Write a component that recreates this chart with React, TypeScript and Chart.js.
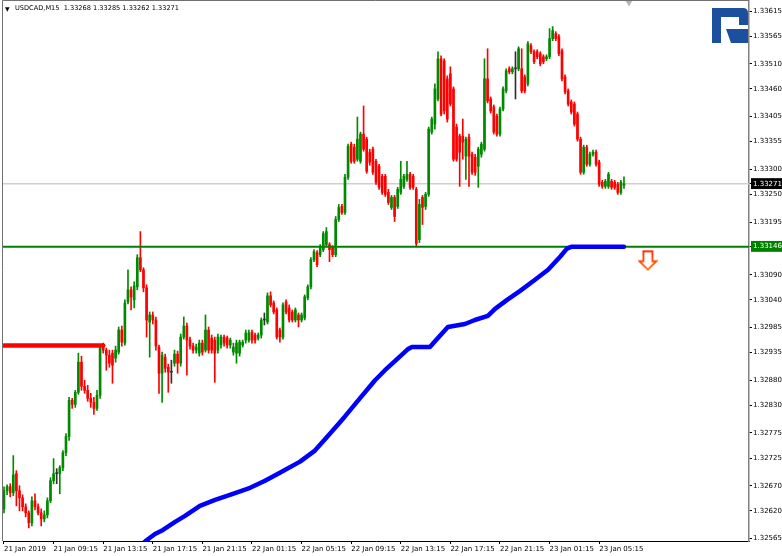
import React, { useEffect, useRef } from "react";
import { Chart, registerables } from "chart.js";

Chart.register(...registerables);

const symbolName = "USDCAD,M15";
const lastOHLC = ["1.33268", "1.33285", "1.33262", "1.33271"];

const opens = [
  1.32624,1.32660,1.32668,1.32656,1.32694,1.32660,1.32646,1.32628,1.32616,1.32596,
  1.32640,1.32628,1.32616,1.32604,1.32612,1.32640,1.32680,1.32694,1.32694,1.32706,
  1.32736,1.32768,1.32840,1.32832,1.32856,1.32916,1.32868,1.32860,1.32844,1.32836,
  1.32824,1.32850,1.32948,1.32940,1.32930,1.32934,1.32924,1.32936,1.32980,1.32954,
  1.33036,1.33060,1.33040,1.33066,1.33124,1.33100,1.33064,1.32996,1.33010,1.33000,
  1.32946,1.32894,1.32926,1.32906,1.32896,1.32914,1.32932,1.32914,1.32966,1.32988,
  1.32960,1.32948,1.32940,1.32934,1.32954,1.32940,1.32980,1.32964,1.32960,1.32940,
  1.32950,1.32966,1.32964,1.32950,1.32936,1.32934,1.32934,1.32950,1.32960,1.32960,
  1.32976,1.32970,1.32964,1.32970,1.33000,1.32996,1.33048,1.33034,1.33020,1.32980,
  1.32966,1.33036,1.33024,1.33016,1.33000,1.33010,1.33000,1.33004,1.33044,1.33066,
  1.33120,1.33134,1.33130,1.33140,1.33150,1.33150,1.33144,1.33130,1.33200,1.33226,
  1.33214,1.33284,1.33350,1.33344,1.33320,1.33316,1.33370,1.33360,1.33334,1.33340,
  1.33316,1.33306,1.33286,1.33286,1.33254,1.33224,1.33244,1.33226,1.33254,1.33266,
  1.33280,1.33290,1.33286,1.33260,1.33160,1.33244,1.33226,1.33250,1.33374,1.33390,
  1.33440,1.33520,1.33516,1.33480,1.33490,1.33460,1.33384,1.33366,1.33366,1.33326,
  1.33364,1.33330,1.33324,1.33306,1.33330,1.33340,1.33480,1.33440,1.33424,1.33406,
  1.33370,1.33420,1.33456,1.33500,1.33494,1.33500,1.33500,1.33500,1.33484,1.33470,
  1.33546,1.33534,1.33534,1.33530,1.33524,1.33520,1.33524,1.33560,1.33570,1.33564,
  1.33536,1.33484,1.33456,1.33434,1.33430,1.33410,1.33360,1.33294,1.33344,1.33310,
  1.33330,1.33334,1.33314,1.33274,1.33266,1.33266,1.33276,1.33274,1.33270,1.33254,
  1.33268,
];

const closes = [
  1.32660,1.32668,1.32656,1.32692,1.32660,1.32646,1.32628,1.32616,1.32596,1.32640,
  1.32628,1.32616,1.32604,1.32612,1.32640,1.32680,1.32694,1.32694,1.32706,1.32736,
  1.32768,1.32840,1.32832,1.32856,1.32916,1.32868,1.32860,1.32844,1.32836,1.32824,
  1.32850,1.32944,1.32940,1.32930,1.32914,1.32910,1.32940,1.32980,1.32956,1.33034,
  1.33060,1.33046,1.33068,1.33124,1.33100,1.33064,1.33000,1.33010,1.33000,1.32948,
  1.32894,1.32930,1.32904,1.32896,1.32896,1.32932,1.32914,1.32966,1.32988,1.32960,
  1.32948,1.32940,1.32946,1.32954,1.32936,1.32980,1.32940,1.32940,1.32934,1.32966,
  1.32966,1.32954,1.32950,1.32960,1.32946,1.32954,1.32956,1.32956,1.32974,1.32974,
  1.32960,1.32960,1.32970,1.33000,1.33000,1.33048,1.33030,1.33016,1.32966,1.32966,
  1.33030,1.33016,1.33000,1.33000,1.33020,1.33000,1.33010,1.33046,1.33066,1.33120,
  1.33136,1.33110,1.33146,1.33172,1.33176,1.33140,1.33130,1.33200,1.33224,1.33214,
  1.33284,1.33346,1.33316,1.33316,1.33360,1.33370,1.33340,1.33296,1.33314,1.33294,
  1.33274,1.33264,1.33254,1.33250,1.33234,1.33244,1.33206,1.33260,1.33280,1.33286,
  1.33290,1.33264,1.33264,1.33152,1.33230,1.33224,1.33250,1.33380,1.33400,1.33460,
  1.33520,1.33410,1.33416,1.33400,1.33430,1.33320,1.33320,1.33334,1.33354,1.33360,
  1.33326,1.33294,1.33294,1.33340,1.33350,1.33480,1.33436,1.33416,1.33374,1.33370,
  1.33420,1.33460,1.33496,1.33494,1.33500,1.33500,1.33540,1.33456,1.33456,1.33550,
  1.33534,1.33514,1.33524,1.33510,1.33514,1.33524,1.33560,1.33576,1.33560,1.33530,
  1.33480,1.33454,1.33430,1.33414,1.33390,1.33360,1.33294,1.33344,1.33310,1.33330,
  1.33334,1.33310,1.33270,1.33266,1.33276,1.33290,1.33264,1.33264,1.33254,1.33274,
  1.33271,
];

const highs = [
  1.32668,1.32672,1.32674,1.32730,1.32700,1.32670,1.32652,1.32634,1.32620,1.32648,
  1.32654,1.32634,1.32624,1.32620,1.32646,1.32686,1.32724,1.32704,1.32710,1.32740,
  1.32774,1.32846,1.32844,1.32860,1.32934,1.32928,1.32880,1.32870,1.32854,1.32846,
  1.32860,1.32950,1.32954,1.32944,1.32940,1.32940,1.32948,1.32986,1.32988,1.33040,
  1.33100,1.33066,1.33076,1.33130,1.33176,1.33104,1.33070,1.33016,1.33016,1.33006,
  1.32950,1.32936,1.32932,1.32912,1.32920,1.32940,1.32938,1.32972,1.33006,1.32994,
  1.32966,1.32954,1.32952,1.32960,1.32960,1.33010,1.32986,1.32970,1.32966,1.32972,
  1.32970,1.32970,1.32968,1.32964,1.32954,1.32960,1.32960,1.32960,1.32980,1.32980,
  1.32980,1.32974,1.32974,1.33004,1.33014,1.33054,1.33056,1.33038,1.33024,1.32984,
  1.33034,1.33040,1.33030,1.33020,1.33024,1.33014,1.33014,1.33050,1.33070,1.33124,
  1.33140,1.33138,1.33150,1.33176,1.33184,1.33154,1.33148,1.33206,1.33230,1.33230,
  1.33290,1.33350,1.33354,1.33350,1.33404,1.33374,1.33426,1.33364,1.33340,1.33344,
  1.33320,1.33310,1.33290,1.33290,1.33260,1.33248,1.33248,1.33264,1.33316,1.33290,
  1.33316,1.33294,1.33290,1.33264,1.33240,1.33248,1.33254,1.33384,1.33404,1.33470,
  1.33534,1.33526,1.33520,1.33486,1.33504,1.33464,1.33390,1.33370,1.33400,1.33364,
  1.33370,1.33334,1.33330,1.33344,1.33354,1.33520,1.33540,1.33444,1.33428,1.33410,
  1.33424,1.33464,1.33500,1.33504,1.33504,1.33534,1.33544,1.33540,1.33488,1.33554,
  1.33550,1.33538,1.33538,1.33534,1.33528,1.33528,1.33580,1.33584,1.33574,1.33568,
  1.33540,1.33488,1.33460,1.33438,1.33434,1.33414,1.33364,1.33348,1.33348,1.33334,
  1.33338,1.33338,1.33318,1.33278,1.33280,1.33294,1.33280,1.33278,1.33274,1.33278,
  1.33285,
];

const lows = [
  1.32616,1.32652,1.32648,1.32650,1.32630,1.32620,1.32620,1.32608,1.32586,1.32590,
  1.32622,1.32612,1.32590,1.32598,1.32606,1.32636,1.32674,1.32674,1.32654,1.32700,
  1.32730,1.32760,1.32824,1.32826,1.32852,1.32860,1.32854,1.32838,1.32826,1.32812,
  1.32820,1.32844,1.32934,1.32900,1.32906,1.32874,1.32916,1.32932,1.32948,1.32950,
  1.33032,1.33020,1.33024,1.33060,1.33096,1.33056,1.32966,1.32926,1.32992,1.32940,
  1.32854,1.32836,1.32896,1.32856,1.32874,1.32908,1.32894,1.32908,1.32962,1.32890,
  1.32942,1.32934,1.32934,1.32928,1.32930,1.32936,1.32934,1.32934,1.32876,1.32934,
  1.32944,1.32948,1.32944,1.32944,1.32930,1.32914,1.32928,1.32946,1.32954,1.32956,
  1.32954,1.32954,1.32960,1.32964,1.32990,1.32992,1.33026,1.33012,1.32962,1.32956,
  1.32962,1.33012,1.32996,1.32996,1.32996,1.32986,1.32996,1.33000,1.33040,1.33062,
  1.33116,1.33106,1.33126,1.33136,1.33146,1.33116,1.33126,1.33126,1.33196,1.33210,
  1.33210,1.33280,1.33312,1.33312,1.33316,1.33312,1.33336,1.33292,1.33308,1.33290,
  1.33270,1.33260,1.33250,1.33246,1.33230,1.33220,1.33196,1.33222,1.33250,1.33262,
  1.33276,1.33260,1.33260,1.33148,1.33154,1.33190,1.33220,1.33246,1.33370,1.33380,
  1.33436,1.33406,1.33410,1.33394,1.33426,1.33316,1.33316,1.33266,1.33320,1.33280,
  1.33266,1.33290,1.33288,1.33264,1.33324,1.33336,1.33432,1.33412,1.33370,1.33366,
  1.33366,1.33416,1.33452,1.33490,1.33490,1.33440,1.33496,1.33452,1.33452,1.33466,
  1.33530,1.33510,1.33520,1.33506,1.33510,1.33516,1.33520,1.33556,1.33556,1.33526,
  1.33476,1.33450,1.33426,1.33410,1.33386,1.33356,1.33290,1.33290,1.33306,1.33306,
  1.33326,1.33306,1.33266,1.33262,1.33262,1.33262,1.33260,1.33260,1.33250,1.33250,
  1.33262,
];

// indicator line (bar index, price)
const blueIdx = [43.9, 46.1, 48.7, 51.3, 55.2, 58.4, 63.2, 68.1, 72.9, 79.4, 84.2, 89.0, 95.5, 100.3, 105.2, 110.0, 114.8, 119.7, 122.9, 126.1, 130.3, 131.6, 137.4, 139.4, 143.2, 148.7, 151.9, 156.1, 158.4, 162.3, 166.5, 171.3, 175.5, 179.4, 181.6, 183.2, 200.0];
const blueVal = [1.32550, 1.32562, 1.32574, 1.32582, 1.32598, 1.32610, 1.32630, 1.32642, 1.32652, 1.32666, 1.32680, 1.32696, 1.32718, 1.32740, 1.32774, 1.32808, 1.32844, 1.32880, 1.32900, 1.32918, 1.32942, 1.32946, 1.32946, 1.32960, 1.32986, 1.32992, 1.33000, 1.33008, 1.33022, 1.33040, 1.33058, 1.33080, 1.33100, 1.33126, 1.33142, 1.33146, 1.33146];

const redLevel = 1.32949;
const redFromIdx = 0;
const redToIdx = 32;

const bidPrice = 1.33271;
const levelPrice = 1.33146;

const arrowIdx = 207.7;
const arrowPrice = 1.33119;
const shiftIdx = 201.6;
const shiftPrice = 1.33632;

const xTickIndex = [0, 16, 32, 48, 64, 80, 96, 112, 128, 144, 160, 176, 192];
const xTickLabels = [
  "21 Jan 2019", "21 Jan 09:15", "21 Jan 13:15", "21 Jan 17:15", "21 Jan 21:15",
  "22 Jan 01:15", "22 Jan 05:15", "22 Jan 09:15", "22 Jan 13:15", "22 Jan 17:15",
  "22 Jan 21:15", "23 Jan 01:15", "23 Jan 05:15",
];

const yTickValues = [
  1.33615, 1.33565, 1.3351, 1.3346, 1.33405, 1.33355, 1.333, 1.33271, 1.3325, 1.33195,
  1.33146, 1.3309, 1.3304, 1.32985, 1.32935, 1.3288, 1.3283, 1.32775, 1.32725, 1.3267,
  1.3262, 1.32565,
];

const X_MIN = -0.32;
const X_MAX = 240.33;
const Y_MIN = 1.3256;
const Y_MAX = 1.33635;

const UP = "#008a00";
const DOWN = "#ff0000";
const DOJI = "#303030";
const FONT = { family: "'DejaVu Sans', sans-serif", size: 7 };

function makeArrow(): HTMLCanvasElement {
  const c = document.createElement("canvas");
  c.width = 20;
  c.height = 21;
  const g = c.getContext("2d")!;
  const grad = g.createLinearGradient(0, 0, 0, 21);
  grad.addColorStop(0, "#ff1a00");
  grad.addColorStop(1, "#ff7000");
  g.beginPath();
  g.moveTo(5.5, 1.5);
  g.lineTo(14.5, 1.5);
  g.lineTo(14.5, 11.5);
  g.lineTo(18.5, 11.5);
  g.lineTo(10, 19.8);
  g.lineTo(1.5, 11.5);
  g.lineTo(5.5, 11.5);
  g.closePath();
  g.fillStyle = "#ffffff";
  g.fill();
  g.lineJoin = "miter";
  g.strokeStyle = grad;
  g.lineWidth = 1.8;
  g.stroke();
  return c;
}

const framePlugin = {
  id: "mtFrame",
  afterDraw(chart: any) {
    const { ctx, chartArea } = chart;
    ctx.save();
    ctx.strokeStyle = "#707070";
    ctx.lineWidth = 1;
    ctx.beginPath();
    ctx.moveTo(chartArea.left - 0.5, chartArea.bottom);
    ctx.lineTo(chartArea.left - 0.5, chartArea.top - 0.5);
    ctx.lineTo(chartArea.right, chartArea.top - 0.5);
    ctx.stroke();
    ctx.restore();
  },
};

const isSame = (a: number, b: number) => Math.abs(a - b) < 1e-7;

const noPad = (s: any) => {
  s.paddingLeft = 0;
  s.paddingRight = 0;
  s.paddingTop = 0;
  s.paddingBottom = 0;
};

export default function App() {
  const ref = useRef<HTMLCanvasElement>(null);

  useEffect(() => {
    const canvas = ref.current!;
    const idx = closes.map((_, i) => i);
    const colors = idx.map((i) =>
      closes[i] > opens[i] ? UP : closes[i] < opens[i] ? DOWN : DOJI
    );

    const chart = new Chart(canvas, {
      type: "bar",
      data: {
        datasets: [
          {
            type: "line",
            label: "bid",
            data: [{ x: X_MIN, y: bidPrice }, { x: X_MAX, y: bidPrice }],
            borderColor: "#cfcfcf",
            borderWidth: 1.5,
            pointRadius: 0,
            order: 10,
          } as any,
          {
            type: "bar",
            label: "wicks",
            data: idx.map((i) => ({ x: i, y: [lows[i], highs[i]] })),
            backgroundColor: colors,
            barThickness: 1,
            grouped: false,
            borderWidth: 0,
            order: 6,
          } as any,
          {
            type: "bar",
            label: "bodies",
            data: idx.map((i) => ({ x: i, y: [opens[i], closes[i]] })),
            backgroundColor: colors,
            barThickness: 2,
            minBarLength: 1,
            grouped: false,
            borderWidth: 0,
            order: 5,
          } as any,
          {
            type: "line",
            label: "level",
            data: [{ x: X_MIN, y: levelPrice }, { x: X_MAX, y: levelPrice }],
            borderColor: "#008000",
            borderWidth: 2,
            pointRadius: 0,
            order: 4,
          } as any,
          {
            type: "line",
            label: "red",
            data: [{ x: redFromIdx, y: redLevel }, { x: redToIdx, y: redLevel }],
            borderColor: "#ff0000",
            borderWidth: 4.5,
            borderCapStyle: "round",
            pointRadius: 0,
            clip: 0,
            order: 3,
          } as any,
          {
            type: "line",
            label: "blue",
            data: blueIdx.map((x, k) => ({ x, y: blueVal[k] })),
            borderColor: "#0000ff",
            borderWidth: 4.5,
            borderCapStyle: "round",
            borderJoinStyle: "round",
            pointRadius: 0,
            tension: 0,
            clip: 0,
            order: 2,
          } as any,
          {
            type: "scatter",
            label: "arrow",
            data: [{ x: arrowIdx, y: arrowPrice }],
            pointStyle: makeArrow(),
            pointRadius: 10,
            order: 1,
          } as any,
          {
            type: "scatter",
            label: "shift",
            data: [{ x: shiftIdx, y: shiftPrice }],
            pointStyle: "triangle",
            rotation: 180,
            pointRadius: 4,
            backgroundColor: "#b4b4b4",
            borderColor: "#b4b4b4",
            borderWidth: 0,
            clip: false,
            order: 1,
          } as any,
        ],
      },
      options: {
        responsive: false,
        maintainAspectRatio: false,
        devicePixelRatio: 1,
        animation: false,
        events: [],
        layout: { autoPadding: false, padding: { left: 3, top: 1, right: 0, bottom: 0 } },
        plugins: {
          legend: { display: false },
          tooltip: { enabled: false },
          title: { display: false },
        },
        scales: {
          x: {
            type: "linear",
            position: "bottom",
            min: X_MIN,
            max: X_MAX,
            offset: false,
            grid: {
              offset: false,
              drawOnChartArea: false,
              drawTicks: true,
              tickLength: 3,
              color: "#000000",
            },
            border: { display: true, color: "#000000", width: 1 },
            ticks: {
              autoSkip: false,
              maxRotation: 0,
              minRotation: 0,
              align: "start",
              padding: 1,
              color: "#000000",
              font: FONT,
              callback: (v: any) => {
                const k = xTickIndex.indexOf(Number(v));
                return k >= 0 ? xTickLabels[k] : "";
              },
            },
            afterBuildTicks: (s: any) => {
              s.ticks = xTickIndex.map((v) => ({ value: v }));
            },
            afterFit: (s: any) => {
              s.height = 15;
              noPad(s);
            },
          },
          y: {
            type: "linear",
            position: "right",
            min: Y_MIN,
            max: Y_MAX,
            grid: {
              drawOnChartArea: false,
              drawTicks: true,
              tickLength: 3,
              color: "#000000",
            },
            border: { display: true, color: "#808080", width: 1.5 },
            ticks: {
              autoSkip: false,
              padding: 1,
              font: FONT,
              color: (c: any) =>
                c.tick && (isSame(c.tick.value, bidPrice) || isSame(c.tick.value, levelPrice))
                  ? "#ffffff"
                  : "#000000",
              showLabelBackdrop: (c: any) =>
                !!c.tick && (isSame(c.tick.value, bidPrice) || isSame(c.tick.value, levelPrice)),
              backdropColor: (c: any) =>
                c.tick && isSame(c.tick.value, bidPrice) ? "#000000" : "#008000",
              backdropPadding: { top: 1.5, bottom: 1, left: 2, right: 8 },
              callback: (v: any) => Number(v).toFixed(5),
            },
            afterBuildTicks: (s: any) => {
              s.ticks = yTickValues.map((v) => ({ value: v }));
            },
            afterFit: (s: any) => {
              s.width = 33;
              noPad(s);
            },
          },
        },
      } as any,
      plugins: [framePlugin],
    });
    return () => chart.destroy();
  }, []);

  return (
    <div
      style={{
        position: "absolute",
        left: 0,
        top: 0,
        width: 782,
        height: 556,
        background: "#ffffff",
        overflow: "hidden",
      }}
    >
      <canvas ref={ref} width={782} height={556} style={{ display: "block", width: 782, height: 556 }} />
      <div
        style={{
          position: "absolute",
          left: 5,
          top: 5,
          font: "6px 'DejaVu Sans', sans-serif",
          color: "#000",
          lineHeight: "7px",
        }}
      >
        ▼
      </div>
      <div
        style={{
          position: "absolute",
          left: 15,
          top: 4,
          font: "6.6px 'DejaVu Sans', sans-serif",
          color: "#000",
          whiteSpace: "pre",
          lineHeight: "9px",
        }}
      >
        {symbolName + "  " + lastOHLC.join(" ")}
      </div>
      <svg
        style={{ position: "absolute", left: 712, top: 8 }}
        width={37}
        height={35}
        viewBox="0 0 37 35"
      >
        <path d="M0 0 H31 Q36 0 36 5 V17 H27 V9 H9 V35 H0 Z" fill="#1c4f9d" />
        <path d="M14 21 H36 V35 H19 Z" fill="#1c4f9d" />
      </svg>
    </div>
  );
}
